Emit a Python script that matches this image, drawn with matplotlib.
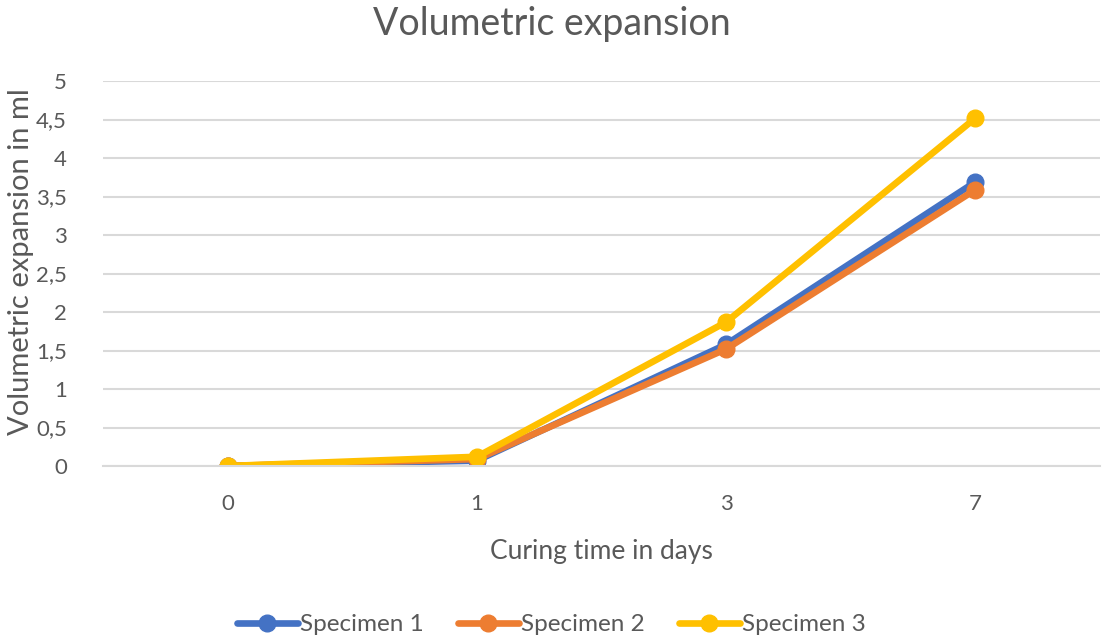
import matplotlib.pyplot as plt
from matplotlib.ticker import FuncFormatter

days = ["0", "1", "3", "7"]
specimen_1 = [0.0, 0.07, 1.58, 3.69]
specimen_2 = [0.0, 0.09, 1.52, 3.59]
specimen_3 = [0.0, 0.12, 1.87, 4.52]
series = {"Specimen 1": specimen_1, "Specimen 2": specimen_2, "Specimen 3": specimen_3}
colors = ["#4472C4", "#ED7D31", "#FFC000"]
yticks = [0, 0.5, 1, 1.5, 2, 2.5, 3, 3.5, 4, 4.5, 5]

plt.rcParams["font.family"] = ["Lato", "DejaVu Sans"]
text_color = "#595959"

fig = plt.figure(figsize=(11.03, 6.41), dpi=100)
ax = fig.add_axes([0.0934, 0.273, 0.904, 0.6006])

x = list(range(len(days)))
for (name, vals), c in zip(series.items(), colors):
    ax.plot(x, vals, color=c, linewidth=4.8, marker="o", markersize=12,
            solid_capstyle="round", label=name)

ax.set_xlim(-0.5, len(days) - 0.5)
ax.set_ylim(0, 5)
ax.set_xticks(x)
ax.set_xticklabels(days)
ax.set_yticks(yticks)
ax.yaxis.set_major_formatter(FuncFormatter(lambda v, p: f"{v:g}".replace(".", ",")))

ax.grid(axis="y", color="#d9d9d9", linewidth=1.5)
ax.set_axisbelow(True)
for s in ["top", "right", "left"]:
    ax.spines[s].set_visible(False)
ax.spines["bottom"].set_color("#d9d9d9")
ax.spines["bottom"].set_linewidth(1.5)
ax.tick_params(length=0, labelsize=16, colors=text_color)
ax.tick_params(axis="x", pad=20)
ax.tick_params(axis="y", pad=26)

fig.suptitle("Volumetric expansion", fontsize=27, color=text_color, x=0.5, y=0.99)
ax.set_xlabel("Curing time in days", fontsize=19, color=text_color, labelpad=18)
ax.set_ylabel("Volumetric expansion in ml", fontsize=21, color=text_color)
ax.yaxis.set_label_coords(-0.069, 0.532)

fig.legend(loc="center", bbox_to_anchor=(0.5, 0.025), ncol=3, frameon=False,
           fontsize=17.5, labelcolor=text_color, handlelength=2.5, handletextpad=0.1,
           columnspacing=1.4)

fig.savefig("out.png", dpi=100)
